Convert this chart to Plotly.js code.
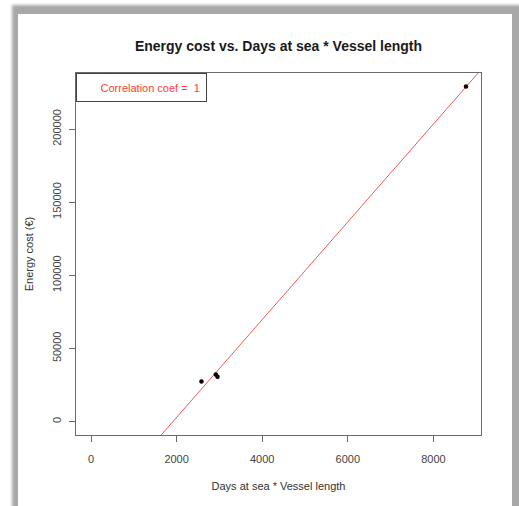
<!DOCTYPE html>
<html>
<head>
<meta charset="utf-8">
<script src="https://cdn.plot.ly/plotly-3.0.1.min.js"></script>
<style>
  html, body { margin: 0; padding: 0; background: #ffffff; }
  #wrap { position: relative; width: 519px; height: 506px; overflow: hidden; }
  #frame { position: absolute; left: 12px; top: 5px; width: 520px; height: 520px;
           background: #a8a8a8; filter: blur(1.4px); }
  #page { position: absolute; left: 18px; top: 14px; width: 494px; height: 500px; background: #ffffff; }
  #chart { position: absolute; left: 0; top: 0; width: 519px; height: 506px; }
</style>
</head>
<body>
<div id="wrap">
  <div id="frame"></div>
  <div id="page"></div>
  <div id="chart"></div>
</div>
<script>
// Vessel observations: effort (days at sea * vessel length) against energy cost
const effort = [2580, 2915, 2955, 8760];
const energyCost = [27400, 32200, 30600, 229200];

const xTicks = [0, 2000, 4000, 6000, 8000];
const yTicks = [0, 50000, 100000, 150000, 200000];

const chartTitle = "Energy cost vs. Days at sea * Vessel length";
const xLabel = "Days at sea * Vessel length";
const yLabel = "Energy cost (\u20ac)";

// least-squares fit and Pearson correlation
function mean(a) { return a.reduce((s, v) => s + v, 0) / a.length; }
const mx = mean(effort), my = mean(energyCost);
let sxy = 0, sxx = 0, syy = 0;
for (let i = 0; i < effort.length; i++) {
  const dx = effort[i] - mx, dy = energyCost[i] - my;
  sxy += dx * dy; sxx += dx * dx; syy += dy * dy;
}
const slope = sxy / sxx;
const intercept = my - slope * mx;
const r = sxy / Math.sqrt(sxx * syy);
const rLabel = "Correlation coef =  " + (Math.round(r * 100) / 100);

// axis limits from 0 to the data maximum, padded 4% each side
function padded(maxV) { const p = 0.04 * maxV; return [-p, maxV + p]; }
const xRange = padded(Math.max(...effort));
const yRange = padded(Math.max(...energyCost));

const fitX = [xRange[0], xRange[1]];
const fitY = fitX.map(x => intercept + slope * x);

const font = "Liberation Sans, Arial, sans-serif";
const axisColor = "#6a6a6a";

const traces = [
  {
    x: fitX, y: fitY, type: "scatter", mode: "lines",
    line: { color: "#f25a5a", width: 1 }, hoverinfo: "skip"
  },
  {
    x: effort, y: energyCost, type: "scatter", mode: "markers",
    marker: { color: "#000000", size: 4.5 }
  }
];

const axisCommon = {
  showgrid: false, zeroline: false,
  showline: true, mirror: true, linecolor: axisColor, linewidth: 1,
  ticks: "outside", ticklen: 6, tickcolor: axisColor, tickwidth: 1,
  tickfont: { family: font, size: 11, color: "#444444" },
  automargin: false
};

const layout = {
  width: 519, height: 506,
  margin: { l: 76, r: 38, t: 73, b: 71 },
  paper_bgcolor: "rgba(0,0,0,0)",
  plot_bgcolor: "rgba(0,0,0,0)",
  showlegend: false,
  title: {
    text: "<b>" + chartTitle + "</b>",
    font: { family: font, size: 14, color: "#1a1a1a" },
    x: 0.5, xref: "paper", xanchor: "center",
    y: 1 - 46 / 506, yref: "container", yanchor: "middle"
  },
  xaxis: Object.assign({}, axisCommon, {
    range: xRange, tickmode: "array", tickvals: xTicks, ticktext: xTicks.map(String),
    ticklabelstandoff: 8,
    title: { text: xLabel, font: { family: font, size: 11, color: "#333333" }, standoff: 18 }
  }),
  yaxis: Object.assign({}, axisCommon, {
    range: yRange, tickmode: "array", tickvals: yTicks, ticktext: yTicks.map(String),
    tickangle: -90, ticklabelstandoff: 4,
    title: { text: yLabel, font: { family: font, size: 11, color: "#333333" }, standoff: 14 }
  }),
  annotations: [{
    text: rLabel + "\u00a0\u00a0", xref: "paper", yref: "paper", x: 0, y: 1,
    xanchor: "left", yanchor: "top", showarrow: false,
    width: 129, height: 27, align: "right", borderpad: 0,
    bordercolor: "#444444", borderwidth: 1, bgcolor: "#ffffff",
    font: { family: font, size: 11, color: "#ff3b3b" }
  }]
};

Plotly.newPlot("chart", traces, layout, { displayModeBar: false, staticPlot: true });
</script>
</body>
</html>
